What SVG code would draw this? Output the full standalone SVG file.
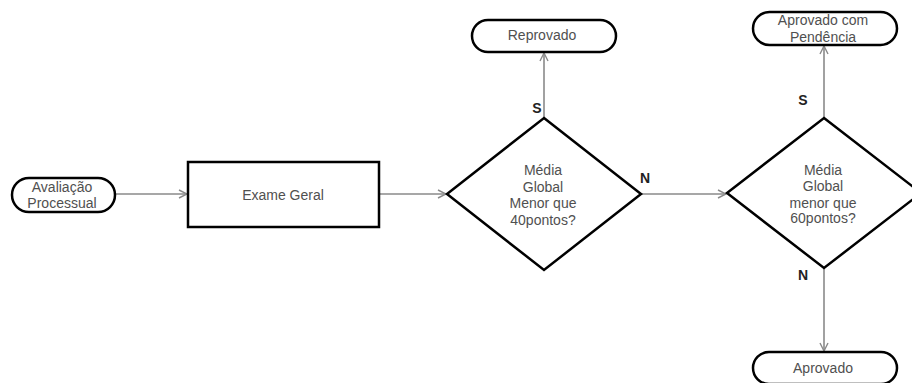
<svg xmlns="http://www.w3.org/2000/svg" width="912" height="383" viewBox="0 0 912 383">
<style>
.shape{fill:#fff;stroke:#000;stroke-width:2.5}
.t{font-family:"Liberation Sans",Arial,sans-serif;font-size:14px;fill:#505050;text-anchor:middle}
.lbl{font-family:"Liberation Sans",Arial,sans-serif;font-size:14px;font-weight:bold;fill:#222;text-anchor:middle}
.c{fill:none;stroke:#8a8a8a;stroke-width:1.6}
</style>
<defs>
<marker id="arr" viewBox="0 0 10 10" refX="9" refY="5" markerWidth="10" markerHeight="10" markerUnits="userSpaceOnUse" orient="auto">
<path d="M1,1 L9,5 L1,9" fill="none" stroke="#8a8a8a" stroke-width="1.4"/>
</marker>
</defs>
<rect width="912" height="383" fill="#fff"/>
<g id="connectors">
<line class="c" x1="115" y1="194" x2="187" y2="194" marker-end="url(#arr)"/>
<line class="c" x1="379" y1="194" x2="446" y2="194" marker-end="url(#arr)"/>
<line class="c" x1="544" y1="118" x2="544" y2="53" marker-end="url(#arr)"/>
<line class="c" x1="641" y1="194" x2="726" y2="194" marker-end="url(#arr)"/>
<line class="c" x1="824" y1="118" x2="824" y2="46" marker-end="url(#arr)"/>
<line class="c" x1="824" y1="268" x2="824" y2="351" marker-end="url(#arr)"/>
<text class="lbl" x="537" y="113">S</text>
<text class="lbl" x="645" y="183">N</text>
<text class="lbl" x="803" y="105">S</text>
<text class="lbl" x="803" y="280">N</text>
</g>
<g id="avaliacao">
<rect class="shape" x="12" y="178" width="103" height="34" rx="17"/>
<text class="t" x="62" y="192">Avaliação</text>
<text class="t" x="62" y="208">Processual</text>
</g>
<g id="exame">
<rect class="shape" x="188" y="162" width="191" height="65"/>
<text class="t" x="283" y="200">Exame Geral</text>
</g>
<g id="decisao40">
<polygon class="shape" points="544,118 641,194 544,270 447,194"/>
<text class="t" x="543" y="175">Média</text>
<text class="t" x="543" y="192">Global</text>
<text class="t" x="543" y="208">Menor que</text>
<text class="t" x="543" y="225">40pontos?</text>
</g>
<g id="reprovado">
<rect class="shape" x="472" y="20" width="144" height="32" rx="16"/>
<text class="t" x="542" y="40">Reprovado</text>
</g>
<g id="decisao60">
<polygon class="shape" points="824,118 921,193 824,268 727,193"/>
<text class="t" x="823" y="175">Média</text>
<text class="t" x="823" y="191">Global</text>
<text class="t" x="823" y="208">menor que</text>
<text class="t" x="823" y="223">60pontos?</text>
</g>
<g id="pendencia">
<rect class="shape" x="753" y="12" width="144" height="33" rx="16.5"/>
<text class="t" x="823" y="25">Aprovado com</text>
<text class="t" x="823" y="42">Pendência</text>
</g>
<g id="aprovado">
<rect class="shape" x="753" y="352" width="144" height="32" rx="16"/>
<text class="t" x="823" y="373">Aprovado</text>
</g>
</svg>
